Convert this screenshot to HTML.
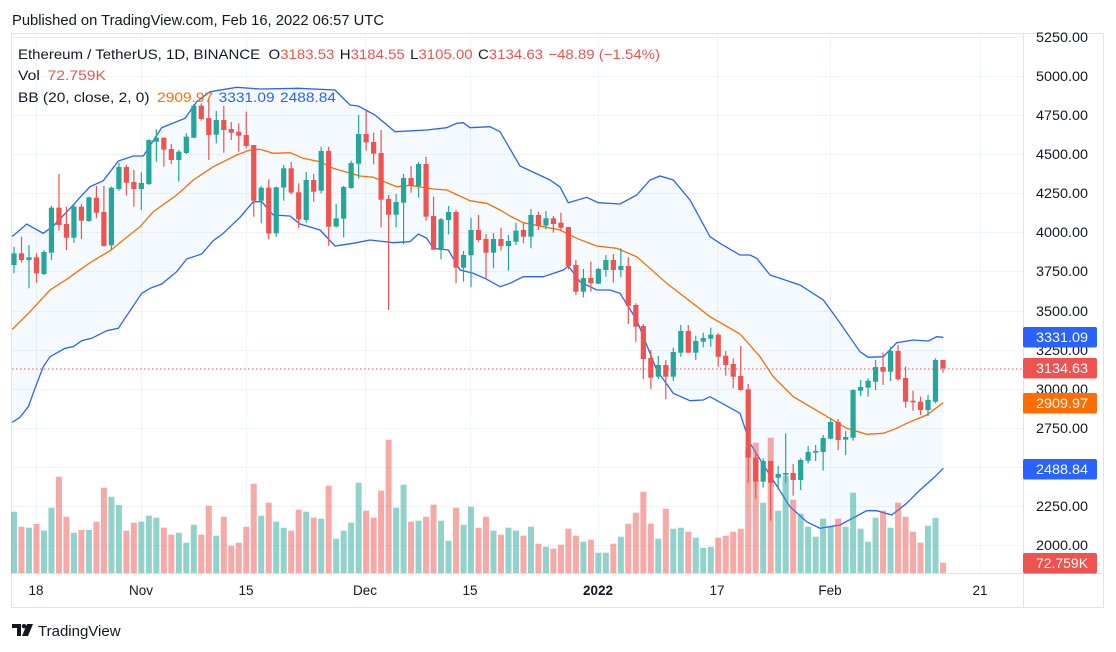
<!DOCTYPE html>
<html><head><meta charset="utf-8">
<style>
html,body{margin:0;padding:0;background:#fff;width:1116px;height:652px;overflow:hidden}
svg{display:block;font-family:"Liberation Sans",sans-serif}
</style></head>
<body>
<svg id="s" width="1116" height="652" viewBox="0 0 1116 652" xmlns="http://www.w3.org/2000/svg">
<rect x="0" y="0" width="1116" height="652" fill="#fff"/>
<text x="12" y="25" font-size="14.5" fill="#131722" textLength="372" lengthAdjust="spacingAndGlyphs">Published on TradingView.com, Feb 16, 2022 06:57 UTC</text>
<rect x="11.5" y="33.5" width="1092" height="574" fill="#fff" stroke="#e0e3eb"/>
<g id="grid"></g>
<g id="bb"></g>
<g id="vol"></g>
<g id="cdl"></g>
<line x1="12" y1="369" x2="1023" y2="369" stroke="#ef5350" stroke-width="1" stroke-dasharray="1.5,2.5"/>
<line x1="1023.5" y1="34" x2="1023.5" y2="607" stroke="#e0e3eb"/>
<line x1="12" y1="573.5" x2="1103" y2="573.5" stroke="#e0e3eb"/>
<g id="axis" font-size="13.5" fill="#131722"></g>
<g font-size="14">
<text x="18" y="59" fill="#131722" textLength="642" lengthAdjust="spacingAndGlyphs">Ethereum / TetherUS, 1D, BINANCE <tspan dx="4">O</tspan><tspan fill="#ef5350">3183.53</tspan><tspan dx="5">H</tspan><tspan fill="#ef5350">3184.55</tspan><tspan dx="5">L</tspan><tspan fill="#ef5350">3105.00</tspan><tspan dx="5">C</tspan><tspan fill="#ef5350">3134.63</tspan><tspan dx="5" fill="#ef5350">−48.89 (−1.54%)</tspan></text>
<text x="18" y="80" fill="#131722" textLength="88" lengthAdjust="spacingAndGlyphs">Vol <tspan dx="3" fill="#ef5350">72.759K</tspan></text>
<text x="18" y="102" fill="#131722" textLength="318" lengthAdjust="spacingAndGlyphs">BB (20, close, 2, 0) <tspan dx="3" fill="#ff6d00">2909.97</tspan><tspan dx="5" fill="#2962ff">3331.09</tspan><tspan dx="5" fill="#2962ff">2488.84</tspan></text>
</g>
<g id="boxes" font-size="13.5" fill="#fff"></g>
<g transform="translate(12,624)">
<path d="M0 0 H9 V12 H5 V4 H0 Z" fill="#131722"/>
<circle cx="12" cy="2.2" r="2.2" fill="#131722"/>
<path d="M15 0 H21 L16 12 H10 Z" fill="#131722"/>
<text x="26" y="12" font-size="15" fill="#131722">TradingView</text>
</g>
</svg>
<script>
const NS="http://www.w3.org/2000/svg";
function el(p,t,a,txt){const e=document.createElementNS(NS,t);for(const k in a)e.setAttribute(k,a[k]);if(txt!==undefined)e.textContent=txt;document.getElementById(p).appendChild(e);return e;}
const Y=p=>545-(p-2000)*0.15631;
for(let p=2000;p<=5250;p+=250){const y=Math.round(Y(p))+0.5;el('grid','line',{x1:12,y1:y,x2:1023,y2:y,stroke:'#f0f3fa'});el('axis','text',{x:1036,y:y+4.5,textLength:52,lengthAdjust:'spacingAndGlyphs'},p.toFixed(2));}
const tl=[[36,'18'],[141,'Nov'],[246,'15'],[365,'Dec'],[470,'15'],[598,'2022'],[717,'17'],[830,'Feb'],[980,'21']];
tl.forEach(([x,t])=>{el('grid','line',{x1:x+0.5,y1:34,x2:x+0.5,y2:573,stroke:'#f0f3fa'});const e=el('axis','text',{x:x,y:595,'text-anchor':'middle'},t);if(t==='2022')e.setAttribute('font-weight','bold');});
const up=[[12,236],[13.3,235.7],[26.7,224],[43.3,233.3],[53.3,226],[71.7,206.7],[80,197.3],[90,186.7],[103.3,180.7],[118.3,161],[133.3,156],[143.3,156],[161.7,127.7],[185,118.3],[196.7,101.7],[210,91.7],[236.7,87.3],[260,89],[298.3,88.3],[335,90],[350,105],[358.3,106],[375,115],[395,131.7],[426.7,130],[446.7,127.7],[456.7,123.3],[463.3,122.7],[470,127.7],[490,126.7],[500,131.7],[520,166],[550,180],[560,187],[568.3,202.7],[586.7,197.3],[598.3,202.7],[620,204],[636.7,195],[650,180],[660,176],[673.3,180],[690,200],[710,236.7],[720,243.3],[740,255],[750,255],[756.7,258.3],[770,275],[800,285],[823.3,300],[836.7,318.3],[860,351.7],[868.3,357.3],[883.3,356.7],[896.7,342.7],[913.3,340],[928.3,341],[936.7,336.7],[943.3,337.3]];
const mid=[[12,329],[13.3,328.3],[30,311.7],[50,290],[66.7,279.3],[90,262.7],[110,250.7],[123.3,240],[140,226.7],[153.3,211.7],[176.7,195],[193.3,180],[213.3,166.7],[236.7,155],[250,150],[260,149.3],[273.3,153.3],[290,152.7],[303.3,158.3],[320,161.7],[333.3,168.3],[360,176],[373.3,177.3],[396.7,186.7],[410,185.3],[433.3,189],[446.7,190],[470,200.7],[486.7,203.3],[500,210],[510,216],[523.3,222.7],[560,230],[576.7,238.3],[596.7,246],[616.7,248.3],[636.7,256.7],[666.7,283.3],[710,316.7],[740,334],[760,356.7],[773.3,376.7],[793.3,396.7],[830,418.3],[846.7,428.3],[866.7,434.3],[883.3,433.3],[896.7,428.3],[906.7,423.3],[926.7,415],[943.3,402.7]];
const lo=[[12,422],[13.3,421.7],[20,417.3],[28.3,406.7],[35,388.3],[43.3,366.7],[50,356.7],[65,348.3],[73.3,346.7],[81.7,340.7],[91.7,338.3],[106.7,330.7],[118.3,328.3],[128.3,313.3],[141.7,293.3],[150,288.3],[161.7,284],[176.7,271.7],[186.7,259],[201.7,254],[213.3,240.7],[223.3,233.3],[240,217.3],[253.3,201.7],[261.7,201.7],[273.3,215],[290,216],[300,224],[320,230],[335,246],[353.3,243.3],[370,240],[393.3,242.7],[410,241.7],[418.3,234],[426.7,238.3],[433.3,248.3],[448.3,250],[460,270],[473.3,273.3],[486.7,279.3],[500,286.7],[510,283.3],[523.3,276.7],[543.3,276.7],[563.3,270],[568.3,266],[580,281.7],[596.7,290],[610,290],[620,293.3],[636.7,320],[656.7,370],[673.3,393.3],[690,400.7],[703.3,400],[710,396.7],[740,413.3],[750,443.3],[766.7,470],[790,506.7],[806.7,521.7],[820,528.3],[840,525],[866.7,510.7],[876.7,510.7],[891.7,515],[906.7,503.3],[920,490],[933.3,478.3],[943.3,468.3]];
const pts=a=>a.map(p=>p[0]+','+p[1]).join(' ');
el('bb','polygon',{points:pts(up)+' '+pts(lo.slice().reverse()),fill:'rgba(33,150,243,0.05)'});
el('bb','polyline',{points:pts(up),fill:'none',stroke:'#2962ff','stroke-width':1.3});
el('bb','polyline',{points:pts(lo),fill:'none',stroke:'#2962ff','stroke-width':1.3});
el('bb','polyline',{points:pts(mid),fill:'none',stroke:'#ff6d00','stroke-width':1.3});
const A=`g 520 555 500 580|r 520 540 470 548|g 532 540 495 625|r 532 580 520 608|g 516 582 510 585|g 383 518 378 540|r 383 435 282 452|r 432 473 380 510|g 380 473 372 488|r 380 422 372 477|g 352 423 350 425|r 353 398 318 415|r 396 498 318 500|g 323 496 320 510|g 261 327 248 332|r 261 308 255 347|r 306 327 270 380|g 309 327 277 390|g 180 312 178 315|g 173 185 148 245|r 173 209 173 260|r 207 240 192 252|g 215 240 210 305|g 170 219 160 222|g 77 173 72 175|r 77 117 70 122|r 114 165 55 240|g 120 164 93 190|r 120 150 77 218|r 147 158 126 180|r 155 167 130 215|r 165 198 95 205|r 195 362 195 410|g 323 362 318 430|r 323 460 298 478|g 322 460 320 470|g 265 323 255 362|r 265 338 246 343|r 337 418 310 445|g 300 420 276 428|r 300 335 282 365|g 213 332 200 340|r 213 440 200 497|g 415 440 372 442|g 321 416 318 472|g 249 324 242 326|g 162 251 105 296|r 162 187 93 212|r 186 221 158 253|r 219 359 150 442|r 357 404 345 690|g 366 404 342 442|g 294 368 282 493|r 294 318 258 338|g 252 318 246 353|r 252 410 230 422|r 408 509 350 510|g 418 510 414 538|g 396 420 378 463|r 396 563 390 610|g 525 563 513 605|g 450 526 413 622|r 450 480 405 485|r 477 518 462 598|g 477 518 459 565|r 477 498 443 512|g 483 498 465 572|g 452 485 428 495`;
const B=`r 150 170 130 190|g 105 170 87 205|r 105 137 95 150|g 115 137 93 148|r 115 132 108 158|r 128 143 98 150|r 141 258 141 268|r 255 335 240 345|g 294 335 267 352|r 294 310 245 335|g 267 311 263 312|g 240 270 225 290|r 240 270 222 308|g 258 270 205 292|r 258 377 232 432|r 375 440 370 485|r 438 537 432 597|r 534 593 510 627|g 555 590 528 598|r 555 590 540 658|g 516 590 503 603|g 453 518 435 530|r 453 518 435 518|g 483 518 467 540|g 474 485 458 502|g 464 476 443 500|r 464 530 460 560|r 527 555 513 587|r 552 590 535 625`;
const C=`r 228 270 138 272|r 268 473 252 548|r 473 545 462 595|g 483 545 475 563|r 483 548 483 662|g 522 533 498 570|g 519 524 400 548|r 519 540 492 587|g 480 540 475 570|g 456 482 438 490|g 453 458 435 483|g 414 456 405 512|g 366 416 355 418|r 366 420 357 450|g 411 419 393 465|g 270 413 268 422|g 261 272 240 288|g 242 263 235 290|g 201 245 180 270|r 201 215 158 255|g 153 215 140 243|r 153 238 135 242|r 234 305 200 323|r 302 307 272 332|r 305 330 290 345|g 300 330 285 348|g 180 305 175 310|r 180 205 180 218`;
const VA=[1295,1340,1343,1332,1352,1283,1190,1310,1358,1350,1350,1325,1223,1250,1275,1352,1328,1325,1307,1313,1343,1364,1358,1388,1334,1364,1277,1367,1310,1397,1388,1340,1211,1307,1268,1325,1343,1352,1289,1295,1313,1316,1217,1376,1352,1328,1208,1292,1313,1232,1079,1283,1214,1325,1322,1310,1274,1322,1382,1283,1334,1280,1343,1310,1352,1364,1343,1352];
const VB=[1067,1040,1091,1100,1106,1094,1046,1067,1085,1079,1118,1118,1091,1070,1031,998,935,1031,1076,986,1046,1043,1055,1073,1103,1100,1073,1067,1055];
const VC=[686,450,428,608,413,632,527,599,641,680,710,656,680,656,680,578,686,725,653,632,683,608,650,695,728,677,654,788];
let cs=[],vs=[];
[[A,80,VA],[B,180,VB],[C,300,VC]].forEach(([s,off,v])=>{s.split('|').forEach((c,k)=>{const a=c.trim().split(/\s+/);const n=a.slice(1).map(x=>+x/3+off);cs.push([a[0],...n]);vs.push(v[k]/3+off);});});
const GC='#26a69a',RC='#ef5350';
cs.forEach((c,i)=>{const x=14+7.492*i;const col=c[0]==='g'?GC:RC;
 const vt=vs[i];el('vol','rect',{x:(x-3).toFixed(2),y:vt.toFixed(1),width:6,height:(573-vt).toFixed(1),fill:c[0]==='g'?'rgba(38,166,154,0.5)':'rgba(239,83,80,0.5)'});
 el('cdl','line',{x1:x.toFixed(2),x2:x.toFixed(2),y1:c[3].toFixed(1),y2:c[4].toFixed(1),stroke:col,'stroke-width':1.2});
 el('cdl','rect',{x:(x-2.6).toFixed(2),y:c[1].toFixed(1),width:5.2,height:Math.max(1.2,c[2]-c[1]).toFixed(1),fill:col});
});
[[327,'#2962ff','3331.09'],[358,'#ef5350','3134.63'],[393,'#ff6d00','2909.97'],[459,'#2962ff','2488.84'],[553,'#ef5350','72.759K']].forEach(([y,c,t])=>{el('boxes','rect',{x:1023,y:y,width:74,height:20.5,rx:2,fill:c});el('boxes','text',{x:1036,y:y+15,textLength:52,lengthAdjust:'spacingAndGlyphs'},t);});
</script>
</body></html>
